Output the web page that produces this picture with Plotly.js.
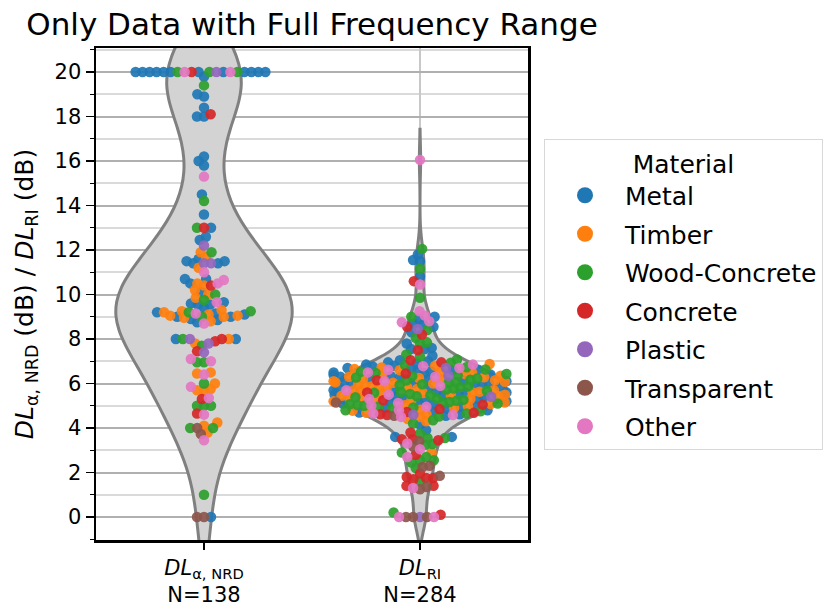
<!DOCTYPE html>
<html><head><meta charset="utf-8">
<script src="https://cdn.plot.ly/plotly-3.0.1.min.js"></script>
<style>html,body{margin:0;padding:0;background:#fff;} #chart{width:826px;height:606px;}</style>
</head><body><div id="chart"></div>
<script>
// ---------- data ----------
const categories = ['NRD', 'RI'];
const tickLabels = ['<i>DL</i><sub>α, NRD</sub>', '<i>DL</i><sub>RI</sub>'];
const materials = ['Metal', 'Timber', 'Wood-Concrete', 'Concrete', 'Plastic', 'Transparent', 'Other'];
const materialColors = ['#1f77b4', '#ff7f0e', '#2ca02c', '#d62728', '#9467bd', '#8c564b', '#e377c2'];

const nrdMetal = [20,20,20,20,20,20,20,20,20,20,20,20, 19.8,19.0,18.9,18.4,18.0,18.0,
  16.2,16.0,15.8,14.5,13.6,13.0,12.6,12.45, 11.5,11.4,11.4,11.5,11.6, 10.7,10.5,10.7,10.1,
  9.65,9.6,9.55,9.55,9.4,9.2,9.15, 9.1,9.0,8.9,8.75,8.85,9.0, 8.0,8.0, 0];
const nrdTimber = [11.9,11.7,11.2,10.4,10.5,10.2,10.0,9.85, 9.3,9.25,9.05,9.0,8.8,8.95,9.05,9.1,9.2,
  7.8,8.0, 6.5,6.45, 6.0,5.7,5.65,5.75, 4.25,4.1,3.8];
const nrdWood = [20,20,20,19.4,14.2,13.0,11.9,10.0,9.75,9.2,9.0,9.25,7.7,8.0,6.95,6.95,6.0,5.0,5.0,5.0,4.0,4.0,1.0];
const nrdConcrete = [20,18.1,13.0,10.4,7.9,8.0,7.45,5.3,4.65];
const nrdPlastic = [20,12.2,11.4,11.4,8.0,7.8,7.4];
const nrdTransparent = [3.73,4.0,0,0];
const nrdOther = [20,20,15.3,11.0,10.65,10.5,9.65,8.7,9.15,7.0,7.1,6.4,5.85,5.35,4.6,3.45];

const riMetal = [11.8,11.55,11.5,10.8,9.0,8.9,8.7,8.65,8.55,8.3,7.8,7.6,7.55,7.55,7.25,4.15,3.9,3.6,3.6,
  4.55,4.62,4.7,4.74,4.8,4.86,4.9,4.96,5.0,5.06,5.1,5.13,5.18,5.2,5.26,5.3,5.33,5.38,5.41,5.45,
  5.5,5.52,5.58,5.6,5.64,5.7,5.72,5.78,5.8,5.86,5.9,5.92,5.98,6.0,6.04,6.1,6.12,6.18,6.2,6.26,
  6.3,6.33,6.38,6.4,6.46,6.5,6.55,6.6,6.62,6.68,6.7,6.76,6.8,6.85,6.9,6.95,7.0,7.05,6.58,6.02];
const riTimber = [2.9,4.3,4.4,
  4.5,4.62,4.68,4.78,4.82,4.9,4.98,5.02,5.08,5.15,5.2,5.22,5.28,5.3,5.35,5.4,5.42,5.48,5.5,5.55,
  5.57,5.6,5.63,5.68,5.7,5.75,5.8,5.82,5.88,5.9,5.95,6.0,6.03,6.08,6.1,6.15,6.2,6.22,6.28,6.3,
  6.35,6.4,6.42,6.48,6.52,6.6,6.65,6.72,6.8,6.88,5.45,5.65,5.85,6.05,6.25];
const riWood = [12.05,11.15,9.85,9.0,8.4,8.05,7.85,7.8,7.3,7.2,
  4.2,4.35,3.75,3.55,3.25,3.28,3.55,2.55,2.45,2.55,2.7,2.9,2.2,1.6,0.2,
  4.52,4.65,4.75,4.8,4.88,4.92,5.0,5.03,5.1,5.17,5.22,5.27,5.32,5.38,5.43,5.47,5.53,5.58,5.62,5.67,
  5.73,5.77,5.83,5.87,5.93,5.97,6.03,6.07,6.13,6.17,6.23,6.27,6.33,6.37,6.43,6.47,6.53,6.63,6.73,6.83,
  6.93,7.08,4.97,5.07,5.13];
const riConcrete = [10.6,8.55,8.2,7.5, 3.8,3.5,3.5,3.45,2.8,1.95,1.8,1.75,1.75,1.7,1.4,1.4,0.1,
  4.58,4.62,4.68,4.72,4.85,5.05,5.25,5.6,6.15,6.45,6.95,7.05];
const riPlastic = [8.45,6.7,6.35,5.4,4.6,0];
const riTransparent = [5.15,4.55,3.4,3.15,2.3,2.25,1.85,1.35,1.25,0,0,0];
const riOther = [16.05,10.45,9.25,9.05,8.8,8.75, 6.85,6.78,6.7,6.62,6.5,6.3,6.1,5.9,5.7,5.5,5.3,5.12,
  5.0,4.95,4.8,4.65,4.58,4.5, 3.3,3.05,2.7,1.3,0,0];

const nrdByMaterial = [nrdMetal, nrdTimber, nrdWood, nrdConcrete, nrdPlastic, nrdTransparent, nrdOther];
const riByMaterial = [riMetal, riTimber, riWood, riConcrete, riPlastic, riTransparent, riOther];
const byCategory = [nrdByMaterial, riByMaterial];

// ---------- geometry (for swarm layout only) ----------
const W = 826, H = 606;
const margin = {l: 96, r: 298, t: 48, b: 66};
const xRange = [-0.5, 1.5];
const yRange = [-1.034, 21.08];
const plotW = W - margin.l - margin.r, plotH = H - margin.t - margin.b;
const pxPerX = plotW / (xRange[1] - xRange[0]);
const pxPerY = plotH / (yRange[1] - yRange[0]);
const swarmD = 7;           // collision spacing in px
const halfWidth = 0.4;      // gutter (data units)

function interleave(groups) {
  const out = [];
  const maxLen = Math.max(...groups.map(g => g.length));
  for (let k = 0; k < maxLen; k++) {
    groups.forEach((g, m) => { if (k < g.length) out.push({v: g[k], m: m, i: out.length}); });
  }
  return out;
}

function swarm(points) {
  const pts = points.map(p => Object.assign({}, p, {py: p.v * pxPerY}));
  pts.sort((a, b) => (a.py - b.py) || (a.i - b.i));
  const placed = [];
  const d2 = swarmD * swarmD;
  for (const p of pts) {
    const nb = placed.filter(q => Math.abs(q.py - p.py) < swarmD);
    const cands = [0];
    for (const q of nb) {
      const dy = p.py - q.py;
      const dx = Math.sqrt(d2 - dy * dy);
      cands.push(q.px - dx, q.px + dx);
    }
    cands.sort((a, b) => Math.abs(a) - Math.abs(b));
    let x = 0;
    for (const c of cands) {
      let ok = true;
      for (const q of nb) {
        const dx = c - q.px, dy = p.py - q.py;
        if (dx * dx + dy * dy < d2 - 1e-6) { ok = false; break; }
      }
      if (ok) { x = c; break; }
    }
    p.px = x;
    placed.push(p);
  }
  const maxPx = halfWidth * pxPerX;
  pts.forEach(p => { if (Math.abs(p.px) > maxPx) p.px = Math.sign(p.px) * maxPx; });
  return pts;
}

function scottBandwidth(vals) {
  const n = vals.length;
  const mean = vals.reduce((a, b) => a + b, 0) / n;
  const sd = Math.sqrt(vals.reduce((a, b) => a + (b - mean) * (b - mean), 0) / (n - 1));
  return sd * Math.pow(n, -0.2);
}

// ---------- traces ----------
const traces = [];
const violinWidths = [0.815, 0.8];
byCategory.forEach((groups, c) => {
  const all = [].concat(...groups);
  traces.push({
    type: 'violin', x0: c, y: all, name: categories[c],
    width: violinWidths[c], bandwidth: scottBandwidth(all), spanmode: 'soft',
    scalemode: 'width', side: 'both', points: false,
    box: {visible: false}, meanline: {visible: false},
    fillcolor: '#d3d3d3', line: {color: '#808080', width: 3},
    hoverinfo: 'skip', showlegend: false
  });
});

const placedByCat = byCategory.map(groups => swarm(interleave(groups)));
materials.forEach((mat, m) => {
  const xs = [], ys = [];
  placedByCat.forEach((pts, c) => {
    pts.filter(p => p.m === m).forEach(p => { xs.push(c + p.px / pxPerX); ys.push(p.v); });
  });
  traces.push({
    type: 'scatter', mode: 'markers', x: xs, y: ys, name: mat,
    marker: {color: materialColors[m], size: 10.5, opacity: 0.92, line: {width: 0}},
    hoverinfo: 'skip', showlegend: false
  });
});
// legend entries
materials.forEach((mat, m) => {
  traces.push({
    type: 'scatter', mode: 'markers', x: [null], y: [null], name: mat,
    legendgroup: mat,
    marker: {color: materialColors[m], size: 16}, showlegend: true, hoverinfo: 'skip'
  });
});

const counts = byCategory.map(g => g.reduce((a, arr) => a + arr.length, 0));
const tickText = tickLabels.map((t, c) => t + '<br>N=' + counts[c]);

const layout = {
  width: W, height: H,
  margin: {l: margin.l, r: margin.r, t: margin.t, b: margin.b, autoexpand: false},
  paper_bgcolor: '#fff', plot_bgcolor: '#fff',
  font: {family: 'DejaVu Sans, sans-serif', color: '#000', size: 21},
  title: {text: 'Only Data with Full Frequency Range', font: {size: 31, color: '#000'},
          x: 0.5, xref: 'paper', xanchor: 'center', y: 1 - 24 / H, yref: 'container', yanchor: 'middle'},
  violinmode: 'overlay',
  xaxis: {
    type: 'linear', range: xRange, tickvals: [0, 1], ticktext: tickText,
    showline: true, mirror: true, linecolor: '#000', linewidth: 2.5,
    ticks: 'outside', ticklen: 7, tickwidth: 1.5, tickcolor: '#000',
    showgrid: true, gridcolor: '#c8c8c8', gridwidth: 1.5, zeroline: false,
    tickfont: {size: 21}
  },
  yaxis: {
    range: yRange, tickmode: 'array', tickvals: [0,2,4,6,8,10,12,14,16,18,20],
    showline: true, mirror: true, linecolor: '#000', linewidth: 2.5,
    ticks: 'outside', ticklen: 8, tickwidth: 1.5, tickcolor: '#000',
    showgrid: true, gridcolor: '#b0b0b0', gridwidth: 2, zeroline: false,
    minor: {dtick: 1, tick0: 0, showgrid: true, gridcolor: '#dadada', gridwidth: 2,
            ticks: 'outside', ticklen: 4, tickwidth: 1.2, tickcolor: '#000'},
    tickfont: {size: 21},
    title: {text: '<i>DL</i><sub>α, NRD</sub> (dB) / <i>DL</i><sub>RI</sub> (dB)',
            font: {size: 25}, standoff: 14}
  },
  showlegend: true,
  legend: {
    x: (544 - margin.l) / plotW, y: (H - margin.b - 139) / plotH, xanchor: 'left', yanchor: 'top',
    bgcolor: '#fff', bordercolor: '#d8d8d8', borderwidth: 1,
    font: {size: 25, color: '#000'},
    title: {text: 'Material', side: 'top center', font: {size: 25}},
    itemwidth: 70, tracegroupgap: 3, traceorder: 'grouped'
  }
};

Plotly.newPlot('chart', traces, layout, {displayModeBar: false, staticPlot: true});
</script>
</body></html>
